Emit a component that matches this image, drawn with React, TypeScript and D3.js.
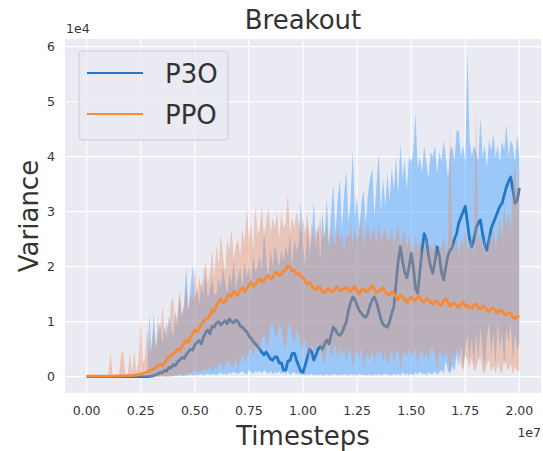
import React from "react";
import * as d3 from "d3";

// Timesteps in units of 1e6, one sample every 1e5 steps (0 .. 20e6)
const timesteps: number[] = Array.from({ length: 201 }, (_, i) => i * 0.1);

// Values in units of 1e4, one row per 1e6 steps
const p3oMean: number[] = [
  0, 0, 0, 0, 0, 0, 0, 0, 0, 0,
  0, 0, 0, 0, 0, 0, 0, 0, 0, 0,
  0, 0, 0, 0, 0, 0, 0, 0, 0, 0.005,
  0.01, 0.02, 0.04, 0.05, 0.08, 0.07, 0.12, 0.1, 0.17, 0.16,
  0.22, 0.2, 0.27, 0.3, 0.35, 0.33, 0.4, 0.45, 0.5, 0.48,
  0.58, 0.62, 0.66, 0.6, 0.72, 0.8, 0.85, 0.78, 0.92, 0.9,
  0.98, 1.0, 0.94, 0.98, 1.02, 0.96, 1.05, 1.0, 0.98, 1.03,
  1.0, 0.92, 0.9, 0.85, 0.82, 0.74, 0.7, 0.64, 0.6, 0.55,
  0.5, 0.44, 0.4, 0.45, 0.38, 0.32, 0.3, 0.36, 0.36, 0.25,
  0.25, 0.12, 0.12, 0.28, 0.3, 0.42, 0.43, 0.3, 0.2, 0.1,
  0.08, 0.2, 0.35, 0.5, 0.45, 0.3, 0.4, 0.5, 0.55, 0.5,
  0.6, 0.67, 0.6, 0.75, 0.9, 0.85, 0.78, 0.75, 0.8, 0.9,
  1.0, 1.2, 1.35, 1.45, 1.4, 1.3, 1.2, 1.15, 1.1, 1.08,
  1.15, 1.3, 1.4, 1.45, 1.35, 1.2, 1.05, 0.95, 0.92, 0.9,
  1.0, 1.15, 1.27, 1.7, 2.1, 2.36, 2.1, 1.9, 1.8, 2.0,
  2.24, 2.0, 1.6, 1.52, 1.9, 2.3, 2.6, 2.5, 2.2, 2.0,
  1.88, 2.1, 2.36, 2.2, 1.9, 1.76, 2.0, 2.2, 2.3, 2.35,
  2.5, 2.6, 2.8, 2.9, 3.0, 3.1, 2.8, 2.5, 2.36, 2.5,
  2.7, 2.8, 2.85, 2.6, 2.4, 2.3, 2.5, 2.7, 2.8, 2.9,
  3.0, 3.1, 3.15, 3.3, 3.45, 3.55, 3.63, 3.4, 3.15, 3.2,
  3.43,
];
const p3oHi: number[] = [
  0, 0, 0, 0, 0, 0, 0, 0, 0, 0,
  0, 0, 0, 0, 0, 0, 0, 0, 0, 0,
  0, 0, 0, 0, 0, 0, 0, 0, 0.05, 1.15,
  0.4, 1.15, 0.5, 0.8, 1.0, 0.6, 0.9, 0.7, 1.1, 0.9,
  0.7, 1.2, 0.9, 1.5, 1.1, 1.3, 2.0, 1.2, 1.6, 2.03,
  1.4, 1.6, 1.3, 1.7, 1.5, 1.9, 1.4, 1.6, 1.8, 1.5,
  1.5, 1.8, 1.6, 2.0, 1.7, 1.5, 1.9, 1.7, 2.1, 1.6,
  1.8, 2.0, 1.6, 2.1, 1.8, 2.0, 1.7, 2.2, 1.9, 2.0,
  2.2, 1.9, 2.7, 2.1, 1.8, 2.3, 2.0, 2.4, 2.2, 2.0,
  2.3, 2.1, 2.4, 2.2, 2.6, 2.0, 2.5, 2.3, 2.4, 3.2,
  2.4, 2.0, 2.8, 2.2, 2.5, 3.2, 2.3, 2.8, 2.1, 3.0,
  2.5, 3.27, 2.4, 3.0, 3.5, 2.6, 3.2, 3.6, 2.7, 3.3,
  3.75, 2.8, 3.2, 4.12, 2.9, 3.3, 2.7, 3.15, 3.4, 2.8,
  3.3, 3.6, 3.8, 2.9, 3.5, 4.06, 3.0, 3.6, 3.1, 3.7,
  3.2, 3.8, 3.4, 4.0, 3.3, 4.24, 3.6, 3.94, 3.4, 4.0,
  3.9, 4.1, 4.8, 3.8, 4.0, 3.7, 4.2, 3.9, 3.6, 4.1,
  4.0, 4.2, 3.7, 4.1, 3.9, 4.3, 4.0, 3.6, 4.1, 4.2,
  3.9, 4.47, 4.47, 4.0, 4.2, 3.9, 5.88, 4.3, 4.0, 4.2,
  4.1, 3.9, 4.72, 4.0, 4.2, 3.8, 4.3, 4.1, 4.4, 4.0,
  4.2, 3.9, 4.3, 4.1, 4.6, 4.0, 4.3, 4.2, 3.9, 4.4,
  4.0,
];
const p3oLo: number[] = [
  0, 0, 0, 0, 0, 0, 0, 0, 0, 0,
  0, 0, 0, 0, 0, 0, 0, 0, 0, 0,
  0, 0, 0, 0, 0, 0, 0, 0, 0, 0,
  0, 0, 0.01, 0, 0.01, 0.02, 0.01, 0, 0.02, 0.01,
  0.01, 0.02, 0.01, 0.03, 0.02, 0.01, 0.03, 0.02, 0.04, 0.02,
  0.02, 0.04, 0.03, 0.05, 0.02, 0.04, 0.06, 0.03, 0.05, 0.04,
  0.03, 0.05, 0.08, 0.04, 0.06, 0.03, 0.08, 0.05, 0.1, 0.06,
  0.05, 0.08, 0.1, 0.06, 0.04, 0.12, 0.08, 0.05, 0.1, 0.07,
  0.1, 0.06, 0.12, 0.08, 0.05, 0.1, 0.04, 0.08, 0.06, 0.1,
  0.05, 0.08, 0.04, 0.1, 0.03, 0.06, 0.08, 0.04, 0.06, 0.03,
  0.04, 0.02, 0.05, 0.03, 0.06, 0.02, 0.04, 0.03, 0.05, 0.02,
  0.03, 0.05, 0.02, 0.04, 0.03, 0.06, 0.02, 0.04, 0.03, 0.05,
  0.04, 0.02, 0.05, 0.03, 0.04, 0.02, 0.06, 0.03, 0.04, 0.02,
  0.03, 0.05, 0.02, 0.04, 0.03, 0.05, 0.02, 0.04, 0.06, 0.03,
  0.04, 0.02, 0.06, 0.03, 0.05, 0.02, 0.08, 0.04, 0.06, 0.03,
  0.05, 0.03, 0.08, 0.04, 0.1, 0.05, 0.06, 0.03, 0.08, 0.05,
  0.05, 0.1, 0.04, 0.08, 0.12, 0.05, 0.3, 0.1, 0.06, 0.2,
  0.1, 0.4, 0.2, 0.6, 0.15, 0.5, 0.8, 0.3, 0.7, 0.2,
  0.8, 0.3, 0.9, 0.5, 0.15, 0.7, 1.0, 0.4, 0.8, 0.2,
  1.0, 0.5, 0.8, 0.2, 0.9, 0.6, 1.0, 0.3, 0.8, 0.5,
  0.6,
];

const ppoMean: number[] = [
  0.01, 0.01, 0.01, 0.01, 0.01, 0.01, 0.01, 0.01, 0.01, 0.01,
  0.01, 0.01, 0.01, 0.01, 0.02, 0.01, 0.02, 0.01, 0.02, 0.02,
  0.02, 0.02, 0.03, 0.03, 0.04, 0.05, 0.06, 0.07, 0.09, 0.1,
  0.12, 0.14, 0.17, 0.2, 0.22, 0.2, 0.26, 0.3, 0.36, 0.38,
  0.42, 0.45, 0.5, 0.48, 0.55, 0.6, 0.66, 0.62, 0.72, 0.78,
  0.85, 0.82, 0.88, 0.95, 1.0, 1.05, 1.06, 1.12, 1.22, 1.18,
  1.3, 1.36, 1.42, 1.35, 1.36, 1.45, 1.5, 1.46, 1.55, 1.5,
  1.48, 1.58, 1.62, 1.55, 1.6, 1.66, 1.72, 1.65, 1.68, 1.74,
  1.78, 1.72, 1.75, 1.82, 1.84, 1.78, 1.8, 1.88, 1.9, 1.84,
  1.86, 1.92, 1.95, 2.02, 2.0, 1.92, 1.94, 1.86, 1.88, 1.82,
  1.8, 1.75, 1.68, 1.72, 1.66, 1.6, 1.58, 1.64, 1.62, 1.55,
  1.52, 1.58, 1.6, 1.54, 1.55, 1.62, 1.63, 1.56, 1.58, 1.6,
  1.62, 1.58, 1.55, 1.6, 1.64, 1.56, 1.5, 1.58, 1.6, 1.54,
  1.56, 1.62, 1.66, 1.58, 1.52, 1.56, 1.58, 1.62, 1.54, 1.5,
  1.48, 1.54, 1.52, 1.45, 1.4, 1.48, 1.46, 1.4, 1.35, 1.42,
  1.44, 1.4, 1.38, 1.46, 1.45, 1.38, 1.36, 1.42, 1.4, 1.35,
  1.32, 1.36, 1.38, 1.3, 1.3, 1.38, 1.42, 1.35, 1.28, 1.33,
  1.34, 1.3, 1.26, 1.32, 1.36, 1.28, 1.3, 1.25, 1.24, 1.3,
  1.32, 1.26, 1.22, 1.28, 1.28, 1.2, 1.18, 1.24, 1.25, 1.2,
  1.16, 1.22, 1.2, 1.14, 1.12, 1.16, 1.15, 1.08, 1.05, 1.1,
  1.08,
];
const ppoHi: number[] = [
  0.02, 0.02, 0.02, 0.03, 0.02, 0.02, 0.03, 0.02, 0.03, 0.02,
  0.03, 0.45, 0.03, 0.02, 0.03, 0.03, 0.45, 0.43, 0.03, 0.04,
  0.44, 0.06, 0.47, 0.08, 0.3, 1.07, 0.25, 0.35, 0.9, 0.4,
  0.6, 0.9, 0.5, 1.1, 0.7, 1.3, 0.8, 1.0, 0.75, 1.35,
  1.45, 0.9, 1.2, 1.58, 1.1, 1.3, 1.7, 1.2, 1.5, 1.4,
  2.0, 1.5, 1.8, 1.6, 1.85, 2.1, 1.7, 1.9, 2.3, 1.8,
  2.4, 2.0, 2.6, 2.2, 1.9, 2.5, 2.3, 2.7, 2.1, 2.4,
  2.5, 2.2, 2.7, 2.4, 3.1, 2.5, 2.8, 2.3, 3.1, 2.6,
  2.7, 3.1, 2.5, 2.8, 3.1, 2.6, 2.9, 2.7, 3.0, 2.5,
  3.0, 2.7, 2.8, 3.33, 2.6, 2.9, 2.7, 3.0, 2.8, 2.6,
  2.9, 2.6, 3.0, 2.5, 2.8, 2.4, 2.7, 2.6, 2.9, 2.5,
  2.6, 2.8, 2.3, 2.7, 2.5, 2.4, 2.8, 2.5, 2.6, 2.3,
  2.6, 2.5, 2.8, 2.4, 2.7, 2.5, 2.6, 2.9, 2.4, 2.6,
  2.8, 2.5, 2.6, 2.7, 2.4, 2.8, 2.5, 2.6, 2.7, 2.5,
  2.5, 2.7, 2.4, 2.6, 2.8, 2.4, 2.5, 2.7, 2.3, 2.6,
  2.4, 2.2, 2.6, 2.3, 2.5, 2.2, 2.4, 2.6, 2.3, 2.4,
  2.3, 2.5, 2.2, 2.4, 2.3, 2.6, 2.2, 2.4, 4.6, 2.5,
  2.3, 2.6, 2.2, 2.5, 2.4, 2.7, 2.3, 2.4, 2.6, 2.2,
  4.85, 2.4, 2.6, 2.3, 2.5, 2.2, 2.6, 2.4, 2.8, 2.3,
  2.6, 2.9, 2.5, 3.2, 2.7, 3.0, 2.6, 3.5, 3.9, 3.2,
  3.8,
];
const ppoLo: number[] = [
  0, 0, 0, 0, 0, 0, 0, 0, 0, 0,
  0, 0, 0, 0, 0, 0, 0, 0, 0, 0,
  0, 0, 0, 0, 0, 0, 0, 0, 0, 0,
  0, 0, 0, 0, 0, 0, 0, 0, 0, 0.005,
  0.01, 0.02, 0.05, 0.03, 0.02, 0.06, 0.04, 0.08, 0.05, 0.07,
  0.12, 0.06, 0.1, 0.08, 0.15, 0.1, 0.12, 0.2, 0.08, 0.18,
  0.15, 0.22, 0.28, 0.12, 0.2, 0.3, 0.25, 0.18, 0.2, 0.35,
  0.1, 0.3, 0.4, 0.25, 0.3, 0.45, 0.55, 0.35, 0.6, 0.5,
  0.45, 0.7, 0.8, 0.55, 0.6, 0.9, 1.0, 0.75, 0.7, 0.95,
  0.9, 0.6, 0.5, 0.85, 1.0, 0.7, 0.6, 0.85, 0.8, 0.55,
  0.55, 0.7, 0.45, 0.3, 0.6, 0.5, 0.4, 0.65, 0.5, 0.35,
  0.2, 0.5, 0.6, 0.35, 0.45, 0.6, 0.3, 0.55, 0.4, 0.5,
  0.3, 0.45, 0.5, 0.15, 0.4, 0.45, 0.35, 0.55, 0.1, 0.4,
  0.4, 0.3, 0.5, 0.2, 0.45, 0.4, 0.5, 0.25, 0.45, 0.2,
  0.4, 0.5, 0.25, 0.45, 0.5, 0.1, 0.4, 0.45, 0.35, 0.5,
  0.35, 0.45, 0.5, 0.2, 0.45, 0.5, 0.3, 0.45, 0.3, 0.5,
  0.5, 0.4, 0.1, 0.45, 0.45, 0.3, 0.5, 0.35, 0.05, 0.4,
  0.3, 0.5, 0.45, 0.2, 0.1, 0.4, 0.3, 0.15, 0.35, 0.1,
  0.15, 0.3, 0.35, 0.1, 0.05, 0.25, 0.3, 0.1, 0.2, 0.05,
  0.25, 0.1, 0.05, 0.3, 0.2, 0.1, 0.25, 0.05, 0.2, 0.1,
  0.1,
];

const xTicks: number[] = [0, 2.5, 5, 7.5, 10, 12.5, 15, 17.5, 20];
const xTickLabels: string[] = ["0.00", "0.25", "0.50", "0.75", "1.00", "1.25", "1.50", "1.75", "2.00"];
const yTicks: number[] = [0, 1, 2, 3, 4, 5, 6];
const seriesNames: string[] = ["P3O", "PPO"];

const W = 543;
const H = 451;
const plot = { left: 65, right: 541, top: 39, bottom: 393 };
const FONT = "DejaVu Sans, sans-serif";
const BG = "#eaeaf2";
const BLUE_LINE = "#1f78c8";
const BLUE_BAND = "#4da6ff";
const ORANGE_LINE = "#f78a35";
const ORANGE_BAND = "#e88c61";

export default function App() {
  const x = d3.scaleLinear().domain([-1, 21]).range([plot.left, plot.right]);
  const y = d3.scaleLinear().domain([-0.296, 6.14]).range([plot.bottom, plot.top]);

  const idx = timesteps.map((_, i) => i);
  const band = (lo: number[], hi: number[]) =>
    d3
      .area<number>()
      .x((i) => x(timesteps[i]))
      .y0((i) => y(lo[i]))
      .y1((i) => y(hi[i]))(idx) ?? "";
  const line = (v: number[]) =>
    d3
      .line<number>()
      .x((i) => x(timesteps[i]))
      .y((i) => y(v[i]))(idx) ?? "";

  const textColor = "#333333";

  return (
    <svg
      width={W}
      height={H}
      style={{ position: "absolute", left: 0, top: 0, background: "#ffffff" }}
      fontFamily={FONT}
    >
      <rect x={plot.left} y={plot.top} width={plot.right - plot.left} height={plot.bottom - plot.top} fill={BG} />
      {/* grid */}
      {xTicks.map((t) => (
        <line key={"gx" + t} x1={x(t)} x2={x(t)} y1={plot.top} y2={plot.bottom} stroke="#ffffff" strokeWidth={1.2} />
      ))}
      {yTicks.map((t) => (
        <line key={"gy" + t} x1={plot.left} x2={plot.right} y1={y(t)} y2={y(t)} stroke="#ffffff" strokeWidth={1.2} />
      ))}

      {/* P3O band and mean */}
      <path d={band(p3oLo, p3oHi)} fill={BLUE_BAND} fillOpacity={0.5} stroke="none" />
      <path d={line(p3oMean)} fill="none" stroke={BLUE_LINE} strokeWidth={2.8} strokeLinejoin="round" />
      {/* PPO band and mean */}
      <path d={band(ppoLo, ppoHi)} fill={ORANGE_BAND} fillOpacity={0.4} stroke="none" />
      <path d={line(ppoMean)} fill="none" stroke={ORANGE_LINE} strokeWidth={2.8} strokeLinejoin="round" />

      {/* ticks */}
      {xTicks.map((t, i) => (
        <text key={"tx" + t} x={x(t)} y={414.5} fontSize={12.5} fill={textColor} textAnchor="middle">
          {xTickLabels[i]}
        </text>
      ))}
      {yTicks.map((t) => (
        <text key={"ty" + t} x={55} y={y(t) + 4.5} fontSize={12.5} fill={textColor} textAnchor="end">
          {t}
        </text>
      ))}
      <text x={66} y={33} fontSize={12.5} fill={textColor}>1e4</text>
      <text x={541} y={437} fontSize={12.5} fill={textColor} textAnchor="end">1e7</text>

      {/* titles */}
      <text x={(plot.left + plot.right) / 2} y={29} fontSize={26} fill={textColor} textAnchor="middle">Breakout</text>
      <text x={(plot.left + plot.right) / 2} y={445} fontSize={26} fill={textColor} textAnchor="middle">Timesteps</text>
      <text
        transform={`translate(38,${(plot.top + plot.bottom) / 2}) rotate(-90)`}
        fontSize={26}
        fill={textColor}
        textAnchor="middle"
      >
        Variance
      </text>

      {/* legend */}
      <rect x={79} y={51} width={149} height={89} rx={4} fill={BG} fillOpacity={0.8} stroke="#cccccc" strokeWidth={1} />
      {seriesNames.map((name, i) => (
        <g key={name}>
          <line
            x1={87}
            x2={143}
            y1={73 + i * 41}
            y2={73 + i * 41}
            stroke={i === 0 ? BLUE_LINE : ORANGE_LINE}
            strokeWidth={2}
          />
          <text x={165} y={82.5 + i * 41} fontSize={26} fill={textColor}>
            {name}
          </text>
        </g>
      ))}
    </svg>
  );
}
